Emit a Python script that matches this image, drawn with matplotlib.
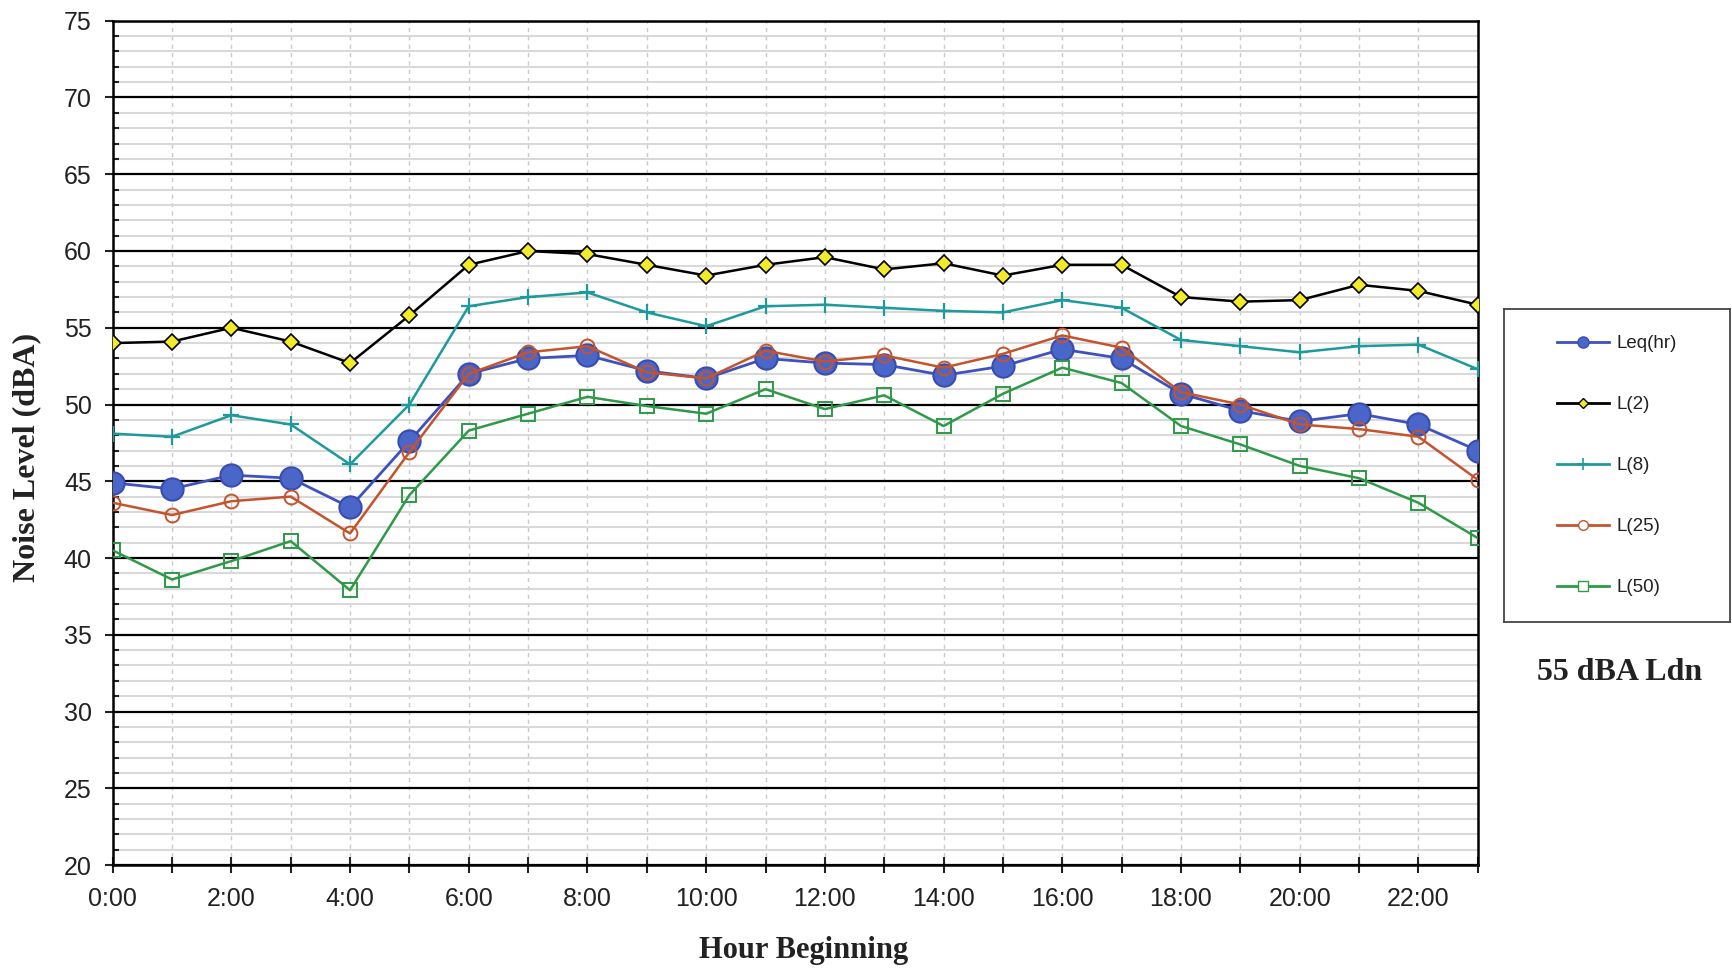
import matplotlib
matplotlib.use("Agg")
import matplotlib.pyplot as plt
from matplotlib.lines import Line2D
from matplotlib.ticker import MultipleLocator

# hourly noise data (dBA)
hours = list(range(24))
hour_labels = ["%d:00" % h if h % 2 == 0 else "" for h in hours]

leq = [44.9, 44.5, 45.4, 45.2, 43.3, 47.6, 52.0, 53.0, 53.2, 52.2, 51.7, 53.0,
       52.7, 52.6, 51.9, 52.5, 53.6, 53.0, 50.7, 49.6, 48.9, 49.4, 48.7, 47.0]
l2 = [54.0, 54.1, 55.0, 54.1, 52.7, 55.8, 59.1, 60.0, 59.8, 59.1, 58.4, 59.1,
      59.6, 58.8, 59.2, 58.4, 59.1, 59.1, 57.0, 56.7, 56.8, 57.8, 57.4, 56.5]
l8 = [48.1, 47.9, 49.3, 48.7, 46.1, 50.0, 56.4, 57.0, 57.3, 56.0, 55.1, 56.4,
      56.5, 56.3, 56.1, 56.0, 56.8, 56.3, 54.2, 53.8, 53.4, 53.8, 53.9, 52.3]
l25 = [43.6, 42.8, 43.7, 44.0, 41.6, 46.9, 52.0, 53.4, 53.8, 52.1, 51.7, 53.5,
       52.8, 53.2, 52.4, 53.3, 54.5, 53.7, 50.8, 50.0, 48.7, 48.4, 47.9, 45.1]
l50 = [40.5, 38.6, 39.8, 41.1, 37.9, 44.1, 48.3, 49.4, 50.5, 49.9, 49.4, 51.0,
       49.7, 50.6, 48.6, 50.7, 52.4, 51.4, 48.6, 47.4, 46.0, 45.2, 43.6, 41.3]

series_names = ["Leq(hr)", "L(2)", "L(8)", "L(25)", "L(50)"]

blue = "#3F51BF"
teal = "#1F9A9C"
rust = "#C4542C"
green = "#2E9A48"

fig = plt.figure(figsize=(17.33, 9.69), dpi=100)
ax = fig.add_axes([0.065, 0.1073, 0.7877, 0.8713])

# grid first so the lines sit on top
ax.set_axisbelow(True)
ax.yaxis.set_major_locator(MultipleLocator(5))
ax.yaxis.set_minor_locator(MultipleLocator(1))
ax.set_xticks(hours)
ax.set_xticklabels(hour_labels)
ax.grid(axis="y", which="minor", color="#D9D9D9", lw=1.5)
ax.grid(axis="y", which="major", color="black", lw=1.6)
ax.grid(axis="x", which="major", color="#CACACA", lw=1.0, ls=(0, (3, 3)))

ax.plot(hours, leq, color=blue, lw=2, marker="o", ms=16,
        mfc="#4A66C8", mec="#3A4CB0", mew=1.5, zorder=3)
ax.plot(hours, l2, color="black", lw=1.8, marker="D", ms=8,
        mfc="#F2EA2A", mec="black", mew=1.2, zorder=3)
ax.plot(hours, l8, color=teal, lw=1.8, marker="+", ms=11, mew=1.6, zorder=3)
ax.plot(hours, l25, color=rust, lw=1.8, marker="o", ms=10,
        mfc="none", mec=rust, mew=1.4, zorder=3)
ax.plot(hours, l50, color=green, lw=1.8, marker="s", ms=10,
        mfc="none", mec=green, mew=1.4, zorder=3)

ax.set_xlim(0, 23)
ax.set_ylim(20, 75)

for s in ax.spines.values():
    s.set_color("black")
    s.set_linewidth(1.8)

ax.tick_params(axis="x", which="major", direction="inout", length=12, width=1.5,
               labelsize=18, pad=10, colors="#222222")
ax.tick_params(axis="y", which="major", direction="out", length=6, width=1.5,
               labelsize=18, pad=9, colors="#222222")
ax.tick_params(axis="y", which="minor", direction="in", length=4.5, width=1.5,
               colors="#222222")
for lab in ax.get_xticklabels() + ax.get_yticklabels():
    lab.set_fontfamily("Liberation Sans")

ax.set_xlabel("Hour Beginning", fontsize=22, fontweight="bold",
              fontfamily="Liberation Serif", color="#222222")
ax.xaxis.set_label_coords(0.506, -0.1007)
ax.xaxis.label.set_va("center")
ax.set_ylabel("Noise Level (dBA)", fontsize=23, fontweight="bold",
              fontfamily="Liberation Serif", color="#222222")
ax.yaxis.set_label_coords(-0.063, 0.483)
ax.yaxis.label.set_va("center")

# legend inside its own framed box
lax = fig.add_axes([0.8679, 0.358, 0.1304, 0.323])
lax.set_xticks([])
lax.set_yticks([])
for s in lax.spines.values():
    s.set_color("#444444")
    s.set_linewidth(1.3)
handles = [
    Line2D([], [], color=blue, lw=2, marker="o", ms=8, mfc="#4A66C8", mec="#3A4CB0"),
    Line2D([], [], color="black", lw=2, marker="D", ms=5.5, mfc="#F2EA2A", mec="black"),
    Line2D([], [], color=teal, lw=2, marker="+", ms=8, mew=1.2),
    Line2D([], [], color=rust, lw=2, marker="o", ms=7, mfc="white", mec=rust),
    Line2D([], [], color=green, lw=2, marker="s", ms=7, mfc="white", mec=green),
]
lax.legend(handles, series_names, loc="center", frameon=False,
           prop={"family": "Liberation Sans", "size": 13.5},
           handlelength=2.8, handletextpad=0.4, labelspacing=2.34,
           labelcolor="#222222")

fig.text(0.9348, 0.3055, "55 dBA Ldn", ha="center", va="center", fontsize=23,
         fontweight="bold", fontfamily="Liberation Serif", color="#222222")

fig.savefig("out.png", dpi=100)
